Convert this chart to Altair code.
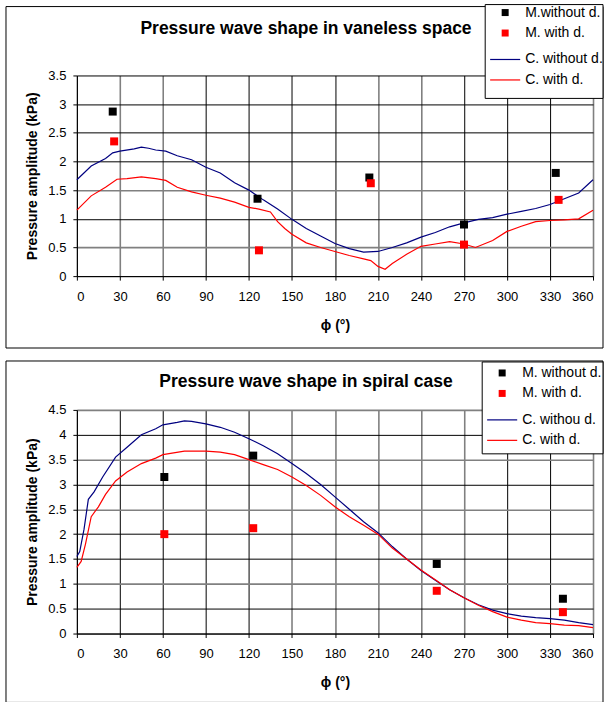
import altair as alt
import pandas as pd

FONT = "Liberation Sans"

# ---------------- Top panel: vaneless space ----------------
vs_title = "Pressure wave shape in vaneless space"
vs_series = ["M.without d.", "M. with d.", "C. without d.", "C. with d."]

vs_m_without_phi = [25, 126, 204, 270, 334]
vs_m_without_p = [2.87, 1.35, 1.72, 0.90, 1.80]
vs_m_with_phi = [26, 127, 205, 270, 336]
vs_m_with_p = [2.35, 0.45, 1.62, 0.55, 1.33]

vs_c_without_phi = [0, 10, 20, 25, 30, 40, 45, 50, 55, 62, 70, 80, 90, 100, 110, 120, 130,
                    140, 150, 160, 170, 180, 190, 200, 210, 220, 230, 240, 250, 260, 270,
                    280, 290, 300, 310, 320, 330, 340, 350, 360]
vs_c_without_p = [1.68, 1.92, 2.05, 2.15, 2.18, 2.22, 2.25, 2.23, 2.20, 2.18, 2.10, 2.03, 1.90,
                  1.80, 1.63, 1.50, 1.33, 1.17, 0.99, 0.83, 0.70, 0.57, 0.48, 0.42, 0.43, 0.50,
                  0.58, 0.68, 0.76, 0.86, 0.93, 0.99, 1.02, 1.08, 1.13, 1.18, 1.25, 1.35, 1.45,
                  1.68]
vs_c_with_phi = [0, 10, 20, 28, 35, 45, 55, 62, 70, 80, 90, 100, 110, 120, 127, 135, 140, 145,
                 150, 160, 170, 180, 190, 200, 205, 210, 215, 220, 230, 240, 250, 260, 270, 278,
                 290, 300, 310, 320, 330, 340, 350, 360]
vs_c_with_p = [1.15, 1.40, 1.55, 1.69, 1.70, 1.73, 1.70, 1.67, 1.55, 1.47, 1.41, 1.36, 1.29,
               1.20, 1.17, 1.12, 0.95, 0.83, 0.73, 0.58, 0.50, 0.43, 0.36, 0.30, 0.27, 0.17,
               0.12, 0.22, 0.38, 0.52, 0.56, 0.60, 0.56, 0.50, 0.62, 0.78, 0.87, 0.95, 0.97,
               0.98, 1.00, 1.15]

# ---------------- Bottom panel: spiral case ----------------
sc_title = "Pressure wave shape in spiral case"
sc_series = ["M. without d.", "M. with d.", "C. withou d.", "C. with d."]

sc_m_without_phi = [61, 123, 251, 339]
sc_m_without_p = [3.15, 3.58, 1.40, 0.70]
sc_m_with_phi = [61, 123, 251, 339]
sc_m_with_p = [2.00, 2.12, 0.86, 0.43]

sc_c_without_phi = [0, 2, 5, 8, 12, 18, 27, 35, 45, 55, 60, 70, 75, 80, 90, 100, 110, 120, 130,
                    140, 150, 160, 170, 180, 190, 200, 210, 220, 230, 240, 250, 260, 270, 280,
                    290, 300, 310, 320, 330, 340, 350, 360]
sc_c_without_p = [1.55, 1.65, 2.10, 2.70, 2.85, 3.15, 3.55, 3.75, 4.00, 4.12, 4.20, 4.25, 4.28,
                  4.27, 4.22, 4.15, 4.05, 3.92, 3.78, 3.62, 3.42, 3.22, 3.00, 2.75, 2.50, 2.25,
                  2.03, 1.75, 1.50, 1.27, 1.07, 0.88, 0.72, 0.58, 0.47, 0.40, 0.35, 0.32, 0.30,
                  0.27, 0.22, 0.18]
sc_c_with_phi = [0, 3, 6, 10, 15, 20, 27, 35, 45, 55, 60, 75, 90, 100, 110, 120, 130, 140, 150,
                 160, 170, 180, 190, 200, 210, 220, 230, 240, 250, 260, 270, 280, 290, 300, 310,
                 320, 330, 340, 350, 360]
sc_c_with_p = [1.33, 1.45, 1.80, 2.35, 2.55, 2.80, 3.07, 3.25, 3.42, 3.53, 3.60, 3.67, 3.67,
               3.65, 3.60, 3.50, 3.40, 3.30, 3.15, 2.98, 2.78, 2.55, 2.35, 2.18, 2.00, 1.72,
               1.50, 1.28, 1.08, 0.88, 0.72, 0.57, 0.44, 0.33, 0.27, 0.22, 0.20, 0.17, 0.16,
               0.12]

x_ticks = list(range(0, 361, 30))
m_colors = ["#000000", "#ff0000"]
c_colors = ["#000080", "#ff0000"]
ROW = 23.5
LEG_FS = 14


def grid_test(vals):
    return " || ".join(f"datum.value == {v}" for v in vals)


def panel(title, series, m1, m2, c1, c2, ymax, height, frame, lbox, first_row, title_dx,
          title_offset, gray_x, gray_y):
    pts = pd.DataFrame({
        "phi": m1[0] + m2[0],
        "p": m1[1] + m2[1],
        "mseries": [series[0]] * len(m1[0]) + [series[1]] * len(m2[0]),
    })
    lines = pd.DataFrame({
        "phi": c1[0] + c2[0],
        "p": c1[1] + c2[1],
        "cseries": [series[2]] * len(c1[0]) + [series[3]] * len(c2[0]),
    })
    y_ticks = [i * 0.5 for i in range(int(ymax * 2) + 1)]
    common = dict(title=None, orient="none", labelFont=FONT, labelFontSize=LEG_FS,
                  labelColor="black", labelLimit=300, padding=0, rowPadding=ROW - 17,
                  symbolSize=49, symbolOffset=12, labelOffset=13)
    m_legend = alt.Legend(legendX=lbox[0] + 1, legendY=lbox[2] + first_row,
                          symbolType="square", symbolStrokeWidth=0, **common)
    c_legend = alt.Legend(legendX=lbox[0] + 1, legendY=lbox[2] + first_row + 2 * ROW,
                          symbolType="M-4.3,0H4.3", symbolStrokeWidth=1.2, **common)
    gx, gy = grid_test(gray_x), grid_test(gray_y)
    x = alt.X("phi:Q", scale=alt.Scale(domain=[0, 360], nice=False),
              axis=alt.Axis(values=x_ticks, format="d", title="ϕ (°)", grid=True,
                            gridColor=alt.condition(gx, alt.value("#808080"), alt.value("#000000")),
                            gridWidth=alt.condition(gx, alt.value(1.6), alt.value(1))))
    y = alt.Y("p:Q", scale=alt.Scale(domain=[0, ymax], nice=False),
              axis=alt.Axis(values=y_ticks, format="~g", title="Pressure amplitude (kPa)",
                            grid=True,
                            gridColor=alt.condition(gy, alt.value("#808080"), alt.value("#000000")),
                            gridWidth=alt.condition(gy, alt.value(1.6), alt.value(1))))

    frame_layer = alt.Chart(pd.DataFrame({"k": [0]})).mark_rect(
        fillOpacity=0, stroke="black", strokeWidth=1
    ).encode(x=alt.value(frame[0]), x2=alt.value(frame[1]),
             y=alt.value(frame[2]), y2=alt.value(frame[3]))
    box_layer = alt.Chart(pd.DataFrame({"k": [0]})).mark_rect(
        fill="white", stroke="black", strokeWidth=1
    ).encode(x=alt.value(lbox[0]), x2=alt.value(lbox[1]),
             y=alt.value(lbox[2]), y2=alt.value(lbox[3]))
    line_layer = alt.Chart(lines).mark_line(strokeWidth=1.2).encode(
        x=x, y=y,
        stroke=alt.Stroke("cseries:N", scale=alt.Scale(domain=series[2:], range=c_colors),
                          legend=c_legend))
    pt_layer = alt.Chart(pts).mark_point(shape="square", filled=True, size=64, opacity=1).encode(
        x=x, y=y,
        color=alt.Color("mseries:N", scale=alt.Scale(domain=series[:2], range=m_colors),
                        legend=m_legend))
    return alt.layer(frame_layer, line_layer, pt_layer, box_layer).properties(
        width=517, height=height,
        title=alt.TitleParams(title, font=FONT, fontSize=17.5, fontWeight="bold", color="black",
                              anchor="middle", frame="group", dx=title_dx, offset=title_offset),
    )


top = panel(vs_title, vs_series, (vs_m_without_phi, vs_m_without_p), (vs_m_with_phi, vs_m_with_p),
            (vs_c_without_phi, vs_c_without_p), (vs_c_with_phi, vs_c_with_p),
            3.5, 201, (-71, 527, -69, 273), (409, 527, -71, 23), 1, -29, -33,
            [30, 60, 210, 240, 360], [1.5, 0.5])
bottom = panel(sc_title, sc_series, (sc_m_without_phi, sc_m_without_p), (sc_m_with_phi, sc_m_with_p),
               (sc_c_without_phi, sc_c_without_p), (sc_c_with_phi, sc_c_with_p),
               4.5, 224, (-71, 527, -49, 293), (406, 527, -48, 44), 4, -29, -30,
               [150, 180, 210, 240, 270, 360], [4.5, 3.5, 2.5, 1])

chart = alt.vconcat(top, bottom, spacing=11).resolve_scale(
    color="independent", stroke="independent"
).resolve_legend(color="independent", stroke="independent").properties(
    padding={"left": 5, "top": 3, "right": 0, "bottom": 0}, background="white"
).configure_view(stroke=None).configure_axis(
    labelFont=FONT, labelFontSize=13, labelColor="black", titleFont=FONT, titleFontSize=14,
    titleFontWeight="bold", titleColor="black", tickColor="black", tickSize=4, domainColor="black",
    domainWidth=1, tickWidth=1
).configure_axisX(labelPadding=10, titlePadding=15).configure_axisY(labelPadding=7, titlePadding=8)

chart.save("out.html", embed_options={"renderer": "svg", "actions": False})
